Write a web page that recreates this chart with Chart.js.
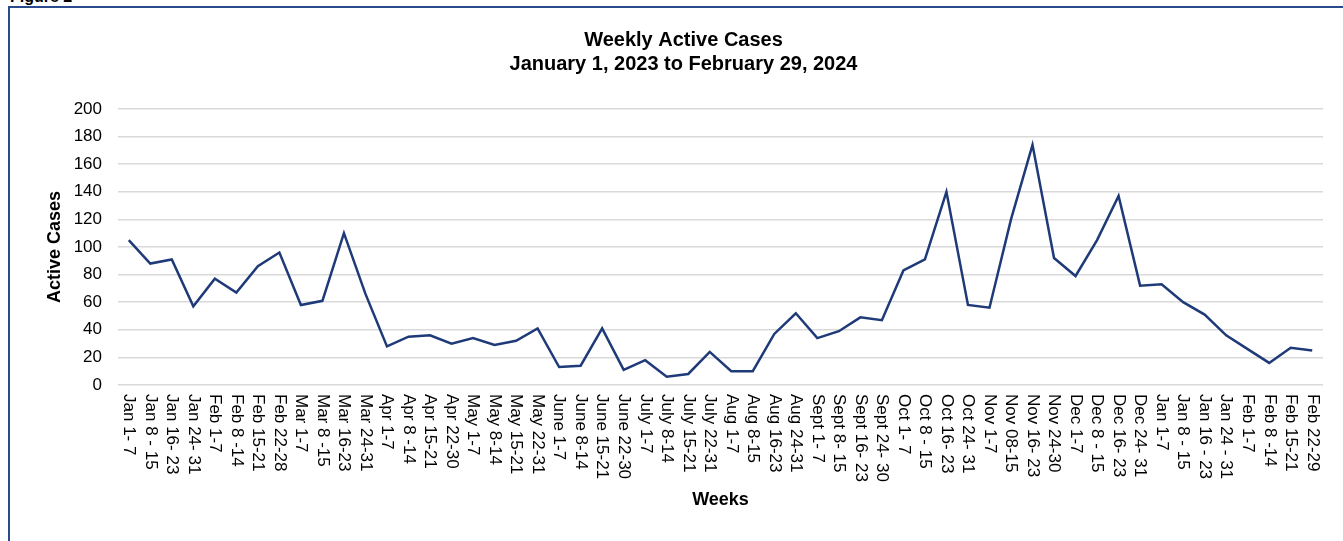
<!DOCTYPE html>
<html>
<head>
<meta charset="utf-8">
<script src="https://cdn.jsdelivr.net/npm/chart.js@4"></script>
<style>
  body { margin: 0; width: 1343px; height: 541px; overflow: hidden; position: relative; background: #fff; font-family: "Liberation Sans", Arial, sans-serif; }
  #fig { position: absolute; left: 10px; top: -11px; font-size: 16px; line-height: 16px; font-weight: bold; color: #000; }
  #box { position: absolute; left: 8px; top: 6px; width: 1400px; height: 600px; border-left: 2px solid #2b4a8b; border-top: 2px solid #2b4a8b; }
  #wrap { position: absolute; left: 10px; top: 8px; width: 1344px; height: 533px; }
</style>
</head>
<body>
<div id="fig">Figure 2</div>
<div id="box"></div>
<div id="wrap"><canvas id="chart"></canvas></div>
<script>
const weeks = [
  'Jan 1- 7', 'Jan 8 - 15', 'Jan 16- 23', 'Jan 24- 31', 'Feb 1-7', 'Feb 8 -14', 'Feb 15-21', 'Feb 22-28',
  'Mar 1-7', 'Mar 8 -15', 'Mar 16-23', 'Mar 24-31', 'Apr 1-7', 'Apr 8 -14', 'Apr 15-21', 'Apr 22-30',
  'May 1-7', 'May 8-14', 'May 15-21', 'May 22-31', 'June 1-7', 'June 8-14', 'June 15-21', 'June 22-30',
  'July 1-7', 'July 8-14', 'July 15-21', 'July 22-31', 'Aug 1-7', 'Aug 8-15', 'Aug 16-23', 'Aug 24-31',
  'Sept 1- 7', 'Sept 8- 15', 'Sept 16- 23', 'Sept 24- 30', 'Oct 1- 7', 'Oct 8 - 15', 'Oct 16- 23', 'Oct 24- 31',
  'Nov 1-7', 'Nov 08-15', 'Nov 16- 23', 'Nov 24-30', 'Dec 1-7', 'Dec 8 - 15', 'Dec 16- 23', 'Dec 24- 31',
  'Jan 1-7', 'Jan 8 - 15', 'Jan 16 - 23', 'Jan 24 - 31', 'Feb 1-7', 'Feb 8 -14', 'Feb 15-21', 'Feb 22-29'
];

const activeCases = [
  105, 88, 91, 57, 77, 67, 86, 96,
  58, 61, 110, 66, 28, 35, 36, 30,
  34, 29, 32, 41, 13, 14, 41, 11,
  18, 6, 8, 24, 10, 10, 37, 52,
  34, 39, 49, 47, 83, 91, 140, 58,
  56, 120, 174, 92, 79, 105, 137, 72,
  73, 60, 51, 36, 26, 16, 27, 25
];

const titleLines = ['Weekly Active Cases', 'January 1, 2023 to February 29, 2024'];

const FONT = '"Liberation Sans", Arial, sans-serif';

// draws the week labels rotated clockwise (reading top to bottom)
const verticalLabels = {
  id: 'verticalLabels',
  afterDraw(chart) {
    const ctx = chart.ctx;
    const x = chart.scales.x;
    const top = chart.chartArea.bottom + 9;
    ctx.save();
    ctx.font = '17px ' + FONT;
    ctx.fillStyle = '#000';
    ctx.textAlign = 'left';
    ctx.textBaseline = 'middle';
    weeks.forEach((w, i) => {
      const px = x.getPixelForValue(i);
      ctx.save();
      ctx.translate(px, top);
      ctx.rotate(Math.PI / 2);
      ctx.fillText(w, 0, 0);
      ctx.restore();
    });
    ctx.restore();
  }
};

new Chart(document.getElementById('chart'), {
  type: 'line',
  data: {
    labels: weeks,
    datasets: [{
      label: 'Active Cases',
      data: activeCases,
      borderColor: '#1f3a78',
      borderWidth: 2.5,
      pointRadius: 0,
      tension: 0,
      fill: false
    }]
  },
  options: {
    responsive: true,
    maintainAspectRatio: false,
    animation: false,
    layout: { padding: { left: 34, right: 31, bottom: 30, top: 0 } },
    plugins: {
      legend: { display: false },
      tooltip: { enabled: false },
      title: {
        display: true,
        text: titleLines,
        color: '#000',
        font: { family: FONT, size: 20, weight: 'bold', lineHeight: 1.2 },
        padding: { top: 20, bottom: 33 }
      }
    },
    scales: {
      x: {
        offset: true,
        grid: { display: false },
        border: { display: false },
        ticks: { display: false },
        title: {
          display: true,
          text: 'Weeks',
          color: '#000',
          font: { family: FONT, size: 18, weight: 'bold', lineHeight: 1.2 },
          padding: 0
        },
        afterFit(scale) { scale.height = 126; }
      },
      y: {
        min: 0,
        max: 200,
        grid: { color: '#d9d9d9', lineWidth: 1.5, drawTicks: false },
        border: { display: false },
        ticks: {
          stepSize: 20,
          padding: 16,
          color: '#000',
          font: { family: FONT, size: 17 }
        },
        title: {
          display: true,
          text: 'Active Cases',
          color: '#000',
          font: { family: FONT, size: 18, weight: 'bold', lineHeight: 1.2 },
          padding: 0
        },
        afterFit(scale) { scale.width = 74; }
      }
    }
  },
  plugins: [verticalLabels]
});
</script>
</body>
</html>
